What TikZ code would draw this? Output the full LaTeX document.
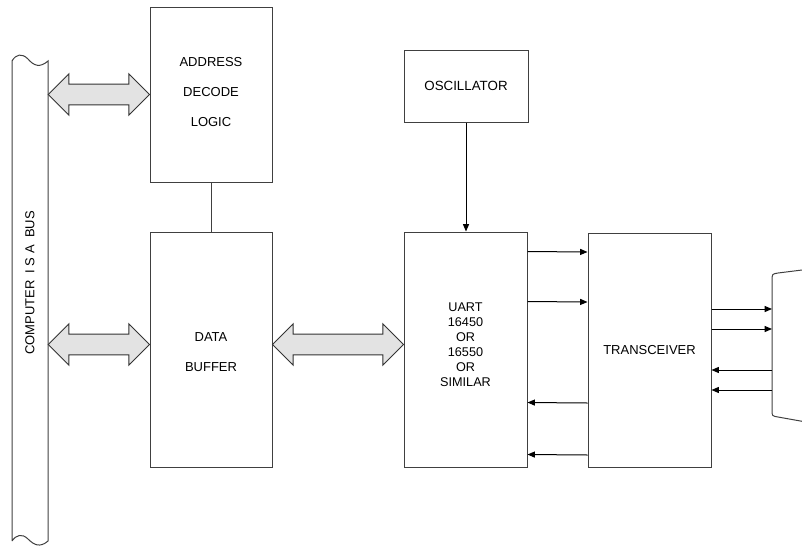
\documentclass[tikz,border=0pt]{standalone}
\usepackage{fontspec}
\setmainfont{Liberation Sans}
\usetikzlibrary{fit,calc,arrows.meta}
\newcommand{\fatarr}[2]{%
  \draw[fat] let \p1=#1, \p2=#2 in
    (\x1,\y1) -- (\x1+15.5pt,\y1+15.5pt) -- (\x1+15.5pt,\y1+7.75pt)
    -- (\x2-15.5pt,\y1+7.75pt) -- (\x2-15.5pt,\y1+15.5pt) -- (\x2,\y1)
    -- (\x2-15.5pt,\y1-15.5pt) -- (\x2-15.5pt,\y1-7.75pt)
    -- (\x1+15.5pt,\y1-7.75pt) -- (\x1+15.5pt,\y1-15.5pt) -- cycle;}
\begin{document}
\begin{tikzpicture}[x=0.75pt,y=-0.75pt,
  box/.style={draw=black!75, line width=0.75pt, inner sep=0pt},
  lbl/.style={font=\fontsize{9.75}{22.5}\selectfont, align=center, inner sep=0pt},
  ulbl/.style={font=\fontsize{9.5}{11.25}\selectfont, align=center, inner sep=0pt},
  sig/.style={draw=black, line width=0.75pt, -{Triangle[length=5.5pt,width=4.5pt]}},
  fat/.style={draw=black!80, fill=black!11, line width=0.75pt, line join=miter},
  wire/.style={draw=black!75, line width=0.75pt}]
\useasboundingbox (0,0) rectangle (802,546);

% bus
\node[inner sep=0pt, fit={(12,61) (48,541)}] (bus) {};
\draw[wire] (12,541) -- (12,61) .. controls (16,54) and (22,53) .. (28,59)
  .. controls (34,66) and (40,68) .. (48,61) -- (48,541)
  .. controls (40,548) and (34,545) .. (28,539)
  .. controls (22,533) and (16,535) .. (12,541);
\node[lbl, rotate=90] (buslbl) at (30,283) {COMPUTER\ \ I\ S\ A\ \ BUS};

% boxes
\node[box, fit={(150,7) (272,182)}] (addr) {};
\node[box, fit={(150,232) (272,467)}] (buf) {};
\node[box, fit={(404,50) (528,122)}] (osc) {};
\node[box, fit={(404,232) (527,467)}] (uart) {};
\node[box, fit={(588,233) (711,467)}] (trans) {};

% labels
\node[lbl] (addrlbl) at ($(addr)+(0,-2)$) {ADDRESS\\DECODE\\LOGIC};
\node[lbl] (buflbl) at ($(buf)+(0,3)$) {DATA\\BUFFER};
\node[lbl, font=\fontsize{10}{12}\selectfont] (osclbl) at (osc) {OSCILLATOR};
\node[ulbl] (uartlbl) at ($(uart)+(0,-5)$) {UART\\16450\\OR\\16550\\OR\\SIMILAR};
\node[lbl] (translbl) at (trans) {TRANSCEIVER};

% fat arrows
\fatarr{(bus.east |- addr.west)}{(addr.west)}
\fatarr{($(bus.east |- buf.west)+(0,-5)$)}{($(buf.west)+(0,-5)$)}
\fatarr{($(buf.east)+(0,-5)$)}{($(uart.west)+(0,-5)$)}

% wires
\draw[wire] (addr.south) -- (buf.north);
\draw[sig] (osc.south) -- (osc.south |- uart.north);
\foreach \dy in {-98,-48}
  \draw[sig] ($(uart.east)+(0,\dy)$) -- ($(trans.west)+(0,\dy)$);
\foreach \dy in {53,105}
  \draw[sig] ($(trans.west)+(0,\dy)$) -- ($(uart.east)+(0,\dy)$);

% connector
\begin{scope}
\clip (0,0) rectangle (802,546);
\coordinate (conn) at (772,350);
\draw[wire] (806,269.5) -- (778,273) .. controls (772,274) .. (772,281)
  -- (772,410) .. controls (772,416) .. (778,417) -- (806,422);
\foreach \dy in {-41,-21}
  \draw[sig] ($(trans.east)+(0,\dy)$) coordinate (s) -- (conn |- s);
\foreach \dy in {20,40}
  \draw[sig] ($(conn)+(0,\dy)$) coordinate (s) -- (trans.east |- s);
\end{scope}
\end{tikzpicture}
\end{document}
